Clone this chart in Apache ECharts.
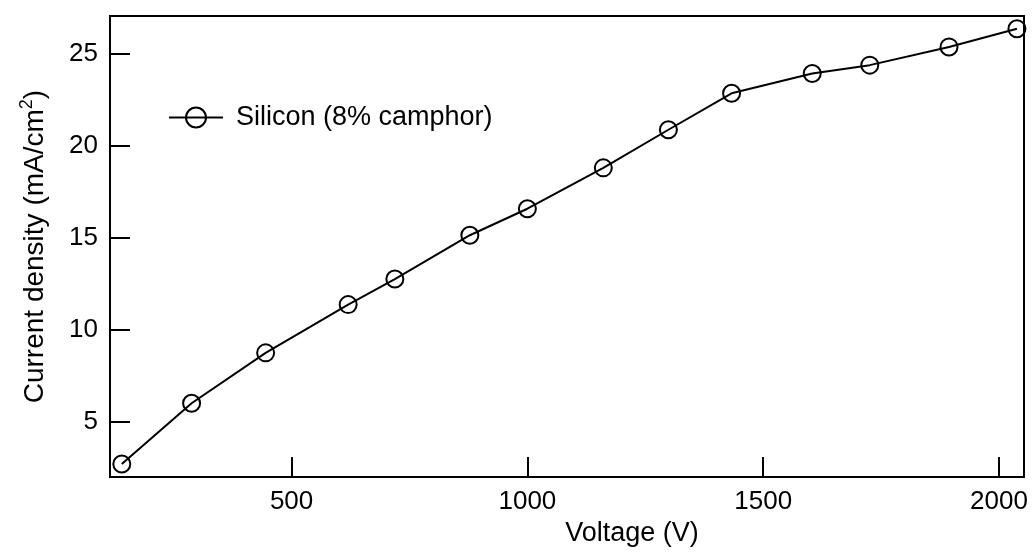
<!DOCTYPE html>
<html>
<head>
<meta charset="utf-8">
<script src="https://cdn.jsdelivr.net/npm/echarts@6/dist/echarts.min.js"></script>
<style>
html,body{margin:0;padding:0;background:#fff;}
#chart{width:1032px;height:552px;}
</style>
</head>
<body>
<div id="chart"></div>
<script>
const seriesName = 'Silicon (8% camphor)';
const voltages = [140, 288, 445, 620, 719, 878, 1000, 1161, 1299, 1433, 1604, 1726, 1894, 2038];
const currentDensity = [2.71, 6.01, 8.75, 11.37, 12.76, 15.14, 16.58, 18.8, 20.87, 22.85, 23.93, 24.38, 25.37, 26.36];
const xTicks = [500, 1000, 1500, 2000];
const yTicks = [5, 10, 15, 20, 25];

const chart = echarts.init(document.getElementById('chart'), null, {renderer: 'canvas'});
const font = '"Liberation Sans", Arial, Helvetica, sans-serif';
const option = {
  backgroundColor: '#fff',
  animation: false,
  textStyle: {fontFamily: font, color: '#000'},
  grid: {left: 110, right: 8, top: 16, bottom: 73, show: true, borderColor: '#000', borderWidth: 2, containLabel: false},
  legend: {
    left: 168, top: 104, padding: 0,
    itemWidth: 54, itemHeight: 25,
    data: [seriesName],
    textStyle: {fontFamily: font, fontSize: 27, color: '#000', padding: [0, 0, 0, 8]},
    itemStyle: {color: 'rgba(0,0,0,0)', borderColor: '#000', borderWidth: 2},
    lineStyle: {color: '#000', width: 2}
  },
  xAxis: {
    type: 'value', min: 115, max: 2053,
    name: 'Voltage (V)', nameLocation: 'middle', nameGap: 40,
    nameTextStyle: {fontFamily: font, fontSize: 27, color: '#000', padding: [0, 0, 0, 130]},
    axisLine: {show: true, lineStyle: {color: '#000', width: 2}},
    axisTick: {show: true, inside: true, length: 20, customValues: xTicks, lineStyle: {color: '#000', width: 2}},
    axisLabel: {customValues: xTicks, formatter: v => String(v), fontFamily: font, fontSize: 26, color: '#000', margin: 12},
    splitLine: {show: false}
  },
  yAxis: {
    type: 'value', min: 2, max: 27.05,
    name: 'Current density (mA/cm{sup|2})', nameLocation: 'middle', nameGap: 58, nameRotate: 90,
    nameTextStyle: {fontFamily: font, fontSize: 28, color: '#000',
      rich: {sup: {fontFamily: font, fontSize: 18, color: '#000', verticalAlign: 'top', padding: [0, 0, 16, 0]}}},
    axisLine: {show: true, lineStyle: {color: '#000', width: 2}},
    axisTick: {show: true, inside: true, length: 20, customValues: yTicks, lineStyle: {color: '#000', width: 2}},
    axisLabel: {customValues: yTicks, formatter: v => String(v), fontFamily: font, fontSize: 26, color: '#000', margin: 12},
    splitLine: {show: false}
  },
  series: [{
    name: seriesName,
    type: 'line',
    data: voltages.map((v, i) => [v, currentDensity[i]]),
    symbol: 'circle', symbolSize: 17,
    itemStyle: {color: 'rgba(0,0,0,0)', borderColor: '#000', borderWidth: 2},
    lineStyle: {color: '#000', width: 2},
    emphasis: {disabled: true}
  }]
};
chart.setOption(option);
</script>
</body>
</html>
